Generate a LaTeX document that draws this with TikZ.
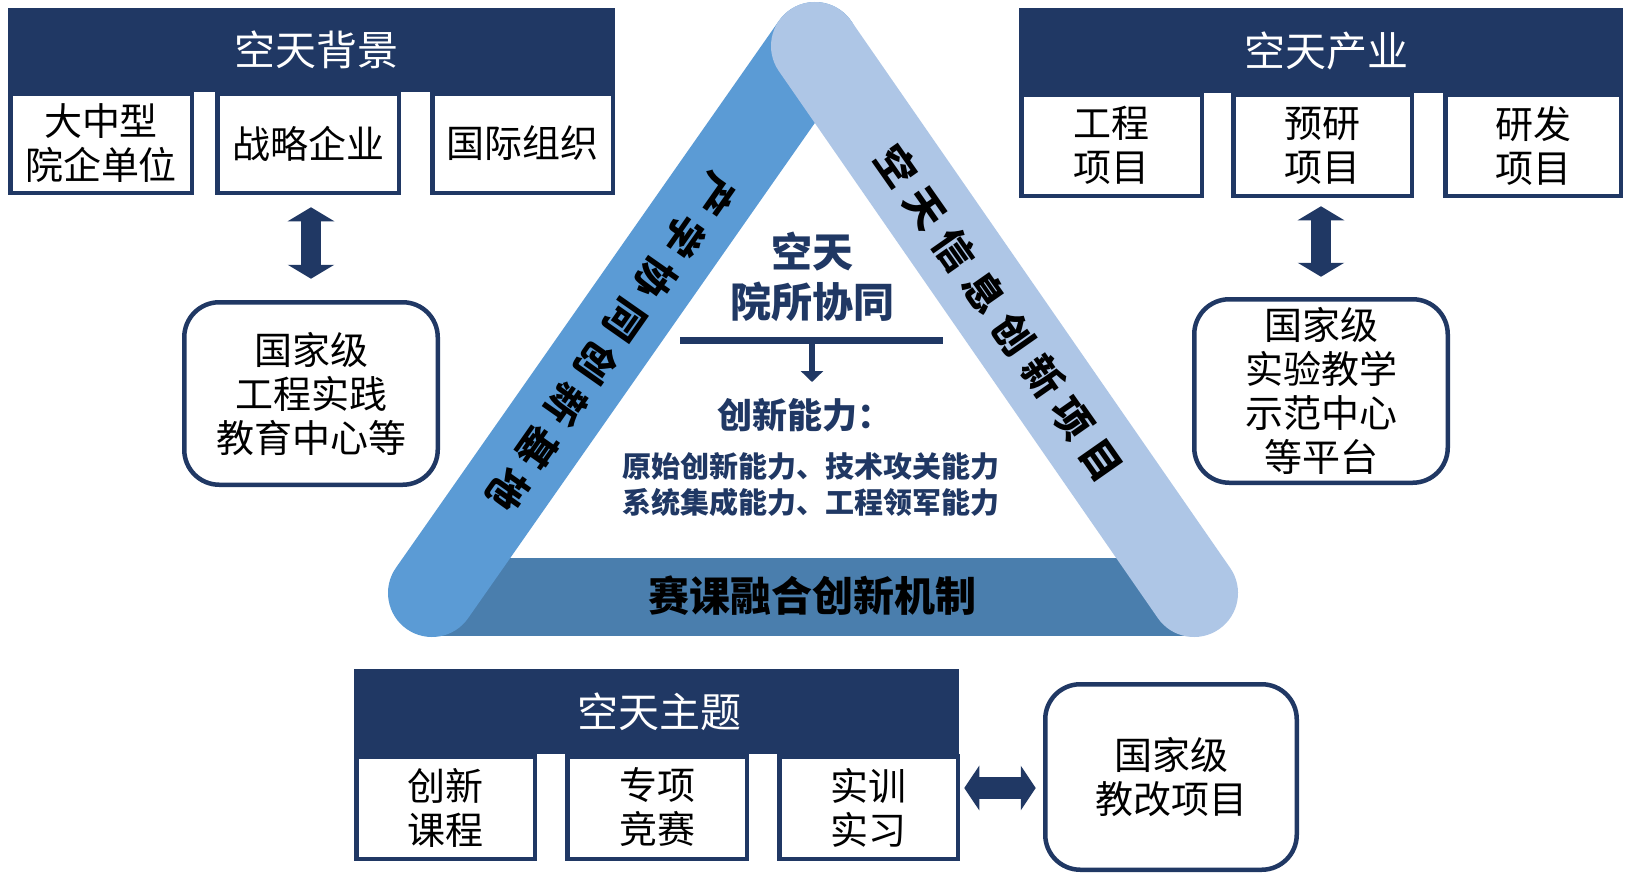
\documentclass[tikz,border=0pt]{standalone}
\usepackage{fontspec}
\setmainfont{Noto Sans CJK SC}
\usetikzlibrary{arrows.meta,calc}
\definecolor{navy}{HTML}{203864}
\definecolor{bandL}{HTML}{5B9BD5}
\definecolor{bandR}{HTML}{AEC6E6}
\definecolor{bandB}{HTML}{4A7EAD}
\newcommand{\gp}{\hspace{11.3pt}}
\begin{document}
\begin{tikzpicture}[x=1pt,y=-1pt,
  hdr/.style={fill=navy, text=white, inner sep=0pt, font=\fontsize{41}{48}\selectfont},
  subbox/.style={draw=navy, line width=4.5pt, fill=white, inner sep=0pt, align=center,
    font=\fontsize{38}{44}\selectfont},
  rbox/.style={draw=navy, line width=4.5pt, fill=white, rounded corners=35pt, inner sep=0pt,
    align=center, font=\fontsize{38}{44}\selectfont},
  dblv/.style={navy, line width=20pt, {Triangle[width=46pt,length=14pt]}-{Triangle[width=46pt,length=14pt]}},
  dblh/.style={navy, line width=22pt, {Triangle[width=44pt,length=15pt]}-{Triangle[width=44pt,length=15pt]}},
  bandtxt/.style={inner sep=0pt, text=black, font=\fontsize{40}{46}\selectfont\bfseries},
  midtxt/.style={inner sep=0pt, text=navy, align=center}
]
\useasboundingbox (0,0) rectangle (1626,875);
\fill[white] (0,0) rectangle (1626,875);

% ---- triangle bands ----
\fill[bandB] (440,558) rectangle (1190,636);
\draw[bandL, line width=88pt, line cap=round] (432,593) -- (815,46);
\draw[bandR, line width=88pt, line cap=round] (815,46) -- (1194,593);

\node[bandtxt, rotate=-125] (lband) at (611,342) {产\gp 学\gp 协\gp 同\gp 创\gp 新\gp 基\gp 地};
\node[bandtxt, rotate=-55] (rband) at (999,313) {空\gp 天\gp 信\gp 息\gp 创\gp 新\gp 项\gp 目};

\node[inner sep=0pt, text=black, font=\fontsize{41}{48}\selectfont\bfseries] (bb) at (812,596) {赛课融合创新机制};

% ---- centre text ----
\node[midtxt, font=\fontsize{41}{50}\selectfont\bfseries] (yuan) at (812,277) {空天\\院所协同};
\coordinate (sepL) at (680,340.5);
\coordinate (sepR) at (943,340.5);
\coordinate (sepM) at (812,340.5);
\coordinate (arrEnd) at (812,382);
\draw[navy, line width=7pt] (sepL) -- (sepR);
\draw[navy, line width=6.5pt, -{Triangle[width=22pt,length=11pt]}] (sepM) -- (arrEnd);
\node[midtxt, font=\fontsize{35}{42}\selectfont\bfseries] (cap) at (805,415) {创新能力：};
\node[midtxt, font=\fontsize{29}{36}\selectfont\bfseries] (caps) at (811,485) {原始创新能力、技术攻关能力\\系统集成能力、工程领军能力};

% ---- top left group ----
\node[hdr, minimum width=607pt, minimum height=84pt, text width=607pt, align=center] (tlh) at (311.5,50) {\hspace*{10pt}空天背景};
\node[subbox, minimum width=181.5pt, minimum height=98.5pt] (tl1) at (101,143.5) {大中型\\院企单位};
\node[subbox, minimum width=181.5pt, minimum height=98.5pt] (tl2) at (308,143.5) {战略企业};
\node[subbox, minimum width=180.5pt, minimum height=98.5pt] (tl3) at (522.5,143.5) {国际组织};
\node[rbox, minimum width=253.5pt, minimum height=182.5pt] (lbox) at (311,393.5) {国家级\\工程实践\\教育中心等};
\draw[dblv, shorten <=12.25pt, shorten >=21.25pt] (lbox.north |- tl2.south) -- (lbox.north);

% ---- top right group ----
\node[hdr, minimum width=604pt, minimum height=85pt, text width=604pt, align=center] (trh) at (1321,50.5) {\hspace*{10pt}空天产业};
\node[subbox, minimum width=180.5pt, minimum height=100.5pt] (tr1) at (1111.5,145.5) {工程\\项目};
\node[subbox, minimum width=178.5pt, minimum height=100.5pt] (tr2) at (1322.5,145.5) {预研\\项目};
\node[subbox, minimum width=175.5pt, minimum height=100.5pt] (tr3) at (1533,145.5) {研发\\项目};
\node[rbox, minimum width=253.5pt, minimum height=183.5pt] (rbox) at (1321,391) {国家级\\实验教学\\示范中心\\等平台};
\draw[dblv, shorten <=8.25pt, shorten >=20.25pt] (rbox.north |- tr2.south) -- (rbox.north);

% ---- bottom group ----
\node[hdr, minimum width=605pt, minimum height=85pt, text width=605pt, align=center] (tbh) at (656.5,711.5) {\hspace*{6pt}空天主题};
\node[subbox, minimum width=178.5pt, minimum height=102.5pt] (tb1) at (445.5,807.5) {创新\\课程};
\node[subbox, minimum width=179.5pt, minimum height=102.5pt] (tb2) at (657,807.5) {专项\\竞赛};
\node[subbox, minimum width=178.5pt, minimum height=102.5pt] (tb3) at (868.5,807.5) {实训\\实习};
\node[rbox, minimum width=251.5pt, minimum height=185.5pt] (brbox) at (1171,777) {国家级\\教改项目};
\coordinate (hL) at ([yshift=19.5pt]tb3.east);
\draw[dblh, shorten <=4.25pt, shorten >=7.25pt] (hL) -- (hL -| brbox.west);
\end{tikzpicture}
\end{document}
